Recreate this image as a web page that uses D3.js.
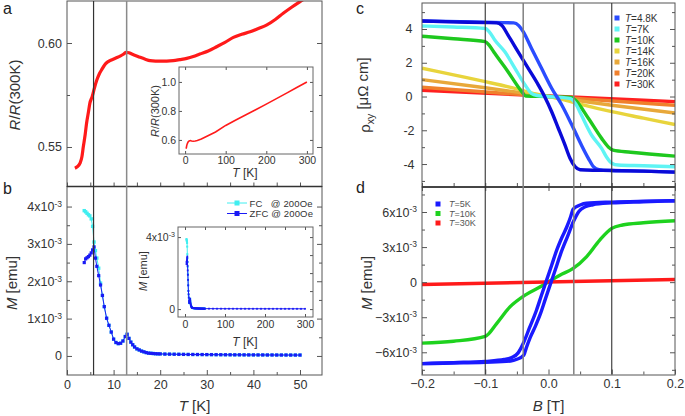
<!DOCTYPE html>
<html><head><meta charset="utf-8">
<script src="https://cdn.jsdelivr.net/npm/d3@7"></script>
<style>body{margin:0;background:#fff}svg{display:block}</style>
</head><body><svg id="chart" width="685" height="416"></svg>
<script>
// ---------------- DATA ----------------
// Panel a: R/R(300K) vs T
const aT = [1.7,2.2,2.8,3.2,3.5,3.9,4.2,4.6,4.9,5.4,5.9,6.4,6.9,7.4,8.0,8.5,9.2,9.9,10.6,11.4,12.1,12.7,13.3,13.9,14.8,15.7,16.8,17.8,19,20,21.4,22.8,24.2,25.7,27.1,28.5,30.3,32.1,33.9,35.7,37.5,39.3,41.1,42.9,44.7,46.4,48.2,50,52];
const aR = [0.5398,0.5405,0.5422,0.5453,0.5501,0.5560,0.5614,0.5668,0.5710,0.5742,0.5785,0.5822,0.5850,0.5870,0.5892,0.5905,0.5915,0.5922,0.5929,0.5937,0.5946,0.5955,0.5953,0.5947,0.5939,0.5931,0.5922,0.5915,0.5913,0.5913,0.5913,0.5915,0.5920,0.5926,0.5935,0.5947,0.5962,0.5982,0.6003,0.6027,0.6042,0.6054,0.6070,0.6087,0.6113,0.6143,0.6172,0.6199,0.6228];
// Inset a
const aInT = [2,3,4,5,6,8,10,13,16,20,25,30,40,50,75,100,125,150,175,200,225,250,275,300];
const aInR = [0.540,0.545,0.561,0.571,0.578,0.589,0.592,0.5955,0.593,0.591,0.593,0.596,0.606,0.620,0.655,0.700,0.737,0.774,0.810,0.847,0.885,0.923,0.962,1.0];
const aInTicksX = [0,100,200,300];
const aInTicksY = [0.6,0.8,1.0];

// Panel b: M vs T (units 1e-3 emu)
const bT = [3.7,4.0,4.3,4.6,4.9,5.2,5.5,5.8,6.1,6.4,6.8,7.2,7.6,8.0,8.5,9.0,9.5,10.0,10.5,11.0,11.5,12.0,12.5,12.9,13.3,13.7,14.1,14.5,15.0,15.5,16.0,16.5,17.0,17.5,18.0,18.5,19.0,19.5,20.0,21,22,23,24,25,26,27,28,29,30,31,32,33,34,35,36,37,38,39,40,41,42,43,44,45,46,47,48,49,50];
const bZFC = [2.50,2.60,2.63,2.66,2.70,2.76,2.84,2.92,2.62,2.40,2.15,1.90,1.62,1.32,1.01,0.82,0.64,0.45,0.36,0.33,0.34,0.40,0.52,0.58,0.47,0.37,0.30,0.24,0.19,0.16,0.13,0.11,0.09,0.075,0.07,0.065,0.06,0.057,0.055,0.05,0.048,0.046,0.044,0.042,0.04,0.039,0.038,0.037,0.036,0.035,0.034,0.033,0.032,0.031,0.03,0.03,0.029,0.028,0.028,0.027,0.027,0.026,0.026,0.025,0.025,0.025,0.024,0.024,0.024];
const bFC = [3.89,3.86,3.82,3.78,3.75,3.67,3.47,3.05,2.82,2.62,2.35,1.95,1.62,1.32,1.01,0.82,0.64,0.45,0.36,0.33,0.34,0.40,0.52,0.58,0.47,0.37,0.30,0.24,0.19,0.16,0.13,0.11,0.09,0.075,0.07,0.065,0.06,0.057,0.055,0.05,0.048,0.046,0.044,0.042,0.04,0.039,0.038,0.037,0.036,0.035,0.034,0.033,0.032,0.031,0.03,0.03,0.029,0.028,0.028,0.027,0.027,0.026,0.026,0.025,0.025,0.025,0.024,0.024,0.024];
// Inset b high-T tail
const bTailT = [60,70,80,90,100,110,120,130,140,150,160,170,180,190,200,210,220,230,240,250,260,270,280,290,300];
const bTailM = [0.023,0.022,0.021,0.021,0.02,0.02,0.02,0.019,0.019,0.019,0.018,0.018,0.018,0.018,0.017,0.017,0.017,0.017,0.016,0.016,0.016,0.016,0.016,0.015,0.015];
const bTicksY = [0,1,2,3,4];
const tTicks = [0,10,20,30,40,50];

// Panel c: rho_xy vs B  [B (T), rho (µΩ cm)]
const c48a = [[-0.2,4.47],[-0.15,4.42],[-0.1,4.38],[-0.082,4.36],[-0.074,4.22],[-0.064,3.64],[-0.048,2.65],[-0.032,1.67],[-0.016,0.68],[-0.006,-0.01],[0.005,-0.9],[0.0155,-1.88],[0.026,-2.87],[0.034,-3.66],[0.042,-4.16],[0.05,-4.34],[0.07,-4.37],[0.1,-4.38],[0.15,-4.42],[0.2,-4.48]];
const c48b = [[-0.2,4.47],[-0.1,4.40],[-0.055,4.36],[-0.047,4.2],[-0.04,3.84],[-0.027,2.86],[-0.011,1.67],[0.005,0.49],[0.021,-0.5],[0.037,-1.69],[0.052,-2.87],[0.063,-3.66],[0.071,-4.15],[0.08,-4.33],[0.1,-4.38],[0.15,-4.42],[0.2,-4.48]];
const c7 = [[-0.2,4.18],[-0.15,4.12],[-0.1,4.03],[-0.093,3.8],[-0.085,3.35],[-0.069,2.65],[-0.053,1.67],[-0.037,0.68],[-0.027,0.19],[-0.018,0.06],[0,0.0],[0.02,-0.05],[0.035,-0.12],[0.044,-0.5],[0.052,-1.1],[0.068,-2.28],[0.084,-3.07],[0.092,-3.6],[0.1,-3.95],[0.11,-4.06],[0.15,-4.1],[0.2,-4.16]];
const c10 = [[-0.2,3.57],[-0.15,3.42],[-0.1,3.25],[-0.093,3.0],[-0.085,2.56],[-0.064,1.47],[-0.042,0.28],[-0.036,0.03],[0,0.0],[0.036,-0.05],[0.042,-0.2],[0.063,-1.29],[0.084,-2.48],[0.095,-3.0],[0.102,-3.18],[0.13,-3.3],[0.2,-3.53]];
const c14 = [[-0.2,1.68],[-0.15,1.28],[-0.1,0.88],[-0.05,0.45],[-0.02,0.15],[0,0.0],[0.02,-0.15],[0.05,-0.45],[0.1,-0.9],[0.15,-1.28],[0.2,-1.66]];
const c16 = [[-0.2,1.0],[-0.1,0.52],[0,0.0],[0.1,-0.52],[0.2,-0.98]];
const c20 = [[-0.2,0.55],[0,0.0],[0.2,-0.52]];
const c30 = [[-0.2,0.37],[0,0.03],[0.2,-0.3]];
const cLegend = ["T=4.8K","T=7K","T=10K","T=14K","T=16K","T=20K","T=30K"];
const cTicksY = [-4,-2,0,2,4];

// Panel d: M vs B  [B (T), M (1e-3 emu)]
const d5a = [[-0.2,-6.97],[-0.15,-6.88],[-0.1,-6.78],[-0.07,-6.62],[-0.058,-6.45],[-0.048,-6.05],[-0.04,-5.25],[-0.03,-3.9],[-0.019,-2.4],[-0.011,-1.1],[-0.003,0.17],[0.005,1.45],[0.013,2.74],[0.021,3.8],[0.029,4.74],[0.035,5.6],[0.039,6.25],[0.05,6.6],[0.06,6.75],[0.1,6.85],[0.15,6.92],[0.2,6.97]];
const d5b = [[-0.2,-6.97],[-0.15,-6.92],[-0.1,-6.85],[-0.06,-6.75],[-0.05,-6.6],[-0.039,-6.25],[-0.035,-5.6],[-0.029,-4.74],[-0.021,-3.8],[-0.013,-2.74],[-0.005,-1.45],[0.003,-0.17],[0.011,1.1],[0.019,2.4],[0.03,3.9],[0.04,5.25],[0.048,6.05],[0.058,6.45],[0.07,6.62],[0.1,6.78],[0.15,6.88],[0.2,6.97]];
const d10 = [[-0.2,-5.22],[-0.15,-5.05],[-0.1,-4.63],[-0.082,-3.54],[-0.061,-2.12],[-0.037,-1.11],[-0.013,-0.4],[0,0.03],[0.018,0.6],[0.039,1.17],[0.06,2.17],[0.081,3.6],[0.1,4.6],[0.117,4.89],[0.15,5.08],[0.2,5.25]];
const d30 = [[-0.2,-0.2],[0.2,0.23]];
const dLegend = ["T=5K","T=10K","T=30K"];
const dTicksY = [-6,-3,0,3,6];
const bFieldTicks = [-0.2,-0.1,0,0.1,0.2];
const tLines = [5.7,12.8];
const bLines = [-0.1,-0.04,0.04,0.1];

// ---------------- DRAWING ----------------
const FONT = '"Liberation Sans", Arial, Helvetica, sans-serif';
const svg = d3.select('#chart').attr('font-family', FONT);

const PA = {x0:67,x1:322,y0:1,y1:186.5};
const PB = {x0:67,x1:322,y0:186.5,y1:375};
const PC = {x0:422,x1:675,y0:3,y1:187};
const PD = {x0:422,x1:675,y0:187,y1:375};
const IA = {x0:179,x1:313,y0:67,y1:154};
const IB = {x0:178,x1:313,y0:227,y1:317};

const xT = d3.scaleLinear().domain([0,54.72]).range([PA.x0,PA.x1]);
const yA = d3.scaleLinear().domain([0.531,0.6202]).range([PA.y1,PA.y0]);
const yB = d3.scaleLinear().domain([-0.51,4.537]).range([PB.y1,PB.y0]);
const xB = d3.scaleLinear().domain([-0.2,0.2]).range([PC.x0,PC.x1]);
const yC = d3.scaleLinear().domain([-5.36,5.54]).range([PC.y1,PC.y0]);
const yD = d3.scaleLinear().domain([-7.9,8.14]).range([374.5,PD.y0]);
const xIA = d3.scaleLinear().domain([-15,315]).range([IA.x0,IA.x1]);
const yIA = d3.scaleLinear().domain([0.503,1.103]).range([IA.y1,IA.y0]);
const xIB = d3.scaleLinear().domain([-17.5,320]).range([IB.x0,IB.x1]);
const yIB = d3.scaleLinear().domain([-0.44,4.56]).range([IB.y1,IB.y0]);

const defs = svg.append('defs');
function clip(id,p){ defs.append('clipPath').attr('id',id).append('rect').attr('x',p.x0).attr('y',p.y0).attr('width',p.x1-p.x0).attr('height',p.y1-p.y0); return `url(#${id})`; }

function axis(kind, scale, pos, values, size, fmt, pad, fs, col){
  const fn = {b:d3.axisBottom,t:d3.axisTop,l:d3.axisLeft,r:d3.axisRight}[kind];
  const a = fn(scale).tickValues(values).tickSize(size).tickSizeOuter(0)
    .tickPadding(pad==null?5:pad).tickFormat(fmt||(()=>''));
  const tr = (kind==='b'||kind==='t')?`translate(0,${pos})`:`translate(${pos},0)`;
  const s = svg.append('g').attr('transform',tr).call(a);
  s.attr('font-family',FONT).attr('font-size',fs||12);
  s.select('.domain').remove();
  s.selectAll('line').attr('stroke',col||'#555').attr('stroke-width',1);
  s.selectAll('text').attr('fill','#333');
  return s;
}
function sci(sel){
  sel.selectAll('.tick text').each(function(d){
    const t = d3.select(this);
    if (Math.abs(d) < 1e-9) { t.text('0'); return; }
    t.text(null);
    t.append('tspan').text(d3.format('d')(d)+'x10');
    t.append('tspan').attr('dy','-0.5em').attr('font-size','0.68em').text('-3');
  });
}
function frame(p, col, w){
  svg.append('rect').attr('x',p.x0).attr('y',p.y0).attr('width',p.x1-p.x0).attr('height',p.y1-p.y0)
    .attr('fill','none').attr('stroke',col||'#555').attr('stroke-width',w||1);
}
const range = (a,b,s)=>d3.range(a,b+s/2,s).map(v=>+v.toFixed(4));

// ===== Panel a =====
const clipA = clip('ca',PA);
svg.append('path').datum(aT.map((t,i)=>[t,aR[i]])).attr('clip-path',clipA)
  .attr('fill','none').attr('stroke','#ff1a1a').attr('stroke-width',3.2).attr('stroke-linejoin','round')
  .attr('d', d3.line().x(d=>xT(d[0])).y(d=>yA(d[1])).curve(d3.curveMonotoneX));
axis('l', yA, PA.x0, [0.55,0.60], -5, d3.format('.2f'), 5, 12.5);
axis('l', yA, PA.x0, [0.575], -3);
axis('r', yA, PA.x1, [0.55,0.60], -5);
axis('r', yA, PA.x1, [0.575], -3);
axis('b', xT, PA.y1, range(0,50,5), -4);

// inset a
svg.append('rect').attr('x',IA.x0).attr('y',IA.y0).attr('width',IA.x1-IA.x0).attr('height',IA.y1-IA.y0).attr('fill','#fff');
svg.append('path').datum(aInT.map((t,i)=>[t,aInR[i]])).attr('clip-path',clip('cia',IA))
  .attr('fill','none').attr('stroke','#ff1a1a').attr('stroke-width',1.6)
  .attr('d', d3.line().x(d=>xIA(d[0])).y(d=>yIA(d[1])));
axis('l', yIA, IA.x0, aInTicksY, -3, d3.format('.1f'), 3, 10.5);
axis('r', yIA, IA.x1, aInTicksY, -3);
axis('b', xIA, IA.y1, aInTicksX, -3, d3.format('d'), 3, 10.5);
axis('t', xIA, IA.y0, aInTicksX, -3);
frame(IA,'#666');
svg.append('text').attr('transform',`translate(159,111) rotate(-90)`).attr('text-anchor','middle')
  .attr('font-size',11).attr('fill','#333')
  .call(t=>{t.append('tspan').attr('font-style','italic').text('R');t.append('tspan').text('/');t.append('tspan').attr('font-style','italic').text('R');t.append('tspan').text('(300K)');});
svg.append('text').attr('x',245).attr('y',177).attr('text-anchor','middle').attr('font-size',12).attr('fill','#333')
  .call(t=>{t.append('tspan').attr('font-style','italic').text('T');t.append('tspan').text(' [K]');});

// ===== Panel b =====
const clipB = clip('cb',PB);
const gB = svg.append('g').attr('clip-path',clipB);
function series(g, xs, ys, xsc, ysc, col, lw, ms){
  const pts = xs.map((t,i)=>[t,ys[i]]);
  g.append('path').datum(pts).attr('fill','none').attr('stroke',col).attr('stroke-width',lw)
    .attr('d', d3.line().x(d=>xsc(d[0])).y(d=>ysc(d[1])));
  g.selectAll(null).data(pts).join('rect')
    .attr('x',d=>xsc(d[0])-ms/2).attr('y',d=>ysc(d[1])-ms/2).attr('width',ms).attr('height',ms).attr('fill',col);
}
series(gB, bT, bFC, xT, yB, '#40eef0', 1, 3.4);
series(gB, bT, bZFC, xT, yB, '#1a1af5', 1, 3.2);
const sb = axis('l', yB, PB.x0, bTicksY, -5, d=>d, 5, 12.5); sci(sb);
axis('l', yB, PB.x0, [0.5,1.5,2.5,3.5], -3);
axis('r', yB, PB.x1, bTicksY, -5);
axis('r', yB, PB.x1, [0.5,1.5,2.5,3.5], -3);
axis('b', xT, PB.y1, tTicks, -5, d3.format('d'), 5, 12.5);
axis('b', xT, PB.y1, [5,15,25,35,45], -3);

// legend b
[['FC   @ 200Oe','#40eef0',203],['ZFC @ 200Oe','#1a1af5',213.5]].forEach(([lab,col,y])=>{
  svg.append('line').attr('x1',227).attr('x2',247).attr('y1',y).attr('y2',y).attr('stroke',col).attr('stroke-width',1);
  svg.append('rect').attr('x',234.5).attr('y',y-2.5).attr('width',5).attr('height',5).attr('fill',col);
  svg.append('text').attr('x',249.5).attr('y',y+3.5).attr('font-size',9.5).attr('letter-spacing',0.15)
    .attr('fill','#333').attr('xml:space','preserve').style('white-space','pre').text(lab);
});

// inset b
svg.append('rect').attr('x',IB.x0).attr('y',IB.y0).attr('width',IB.x1-IB.x0).attr('height',IB.y1-IB.y0).attr('fill','#fff');
const gIB = svg.append('g').attr('clip-path',clip('cib',IB));
series(gIB, bT, bFC, xIB, yIB, '#40eef0', 1, 2);
series(gIB, bT.concat(bTailT), bZFC.concat(bTailM), xIB, yIB, '#1a1af5', 1, 1.8);
const sib = axis('l', yIB, IB.x0, [0,4], -3, d=>d, 3, 10.5); sci(sib);
axis('r', yIB, IB.x1, [0,1,2,3,4], -3);
axis('b', xIB, IB.y1, aInTicksX, -3, d3.format('d'), 4, 10.5);
axis('t', xIB, IB.y0, [0,50,100,150,200,250,300], -3);
frame(IB,'#666');
svg.append('text').attr('transform',`translate(147,271) rotate(-90)`).attr('text-anchor','middle')
  .attr('font-size',11).attr('fill','#333')
  .call(t=>{t.append('tspan').attr('font-style','italic').text('M');t.append('tspan').text(' [emu]');});
svg.append('text').attr('x',245).attr('y',346).attr('text-anchor','middle').attr('font-size',12).attr('fill','#333')
  .call(t=>{t.append('tspan').attr('font-style','italic').text('T');t.append('tspan').text(' [K]');});

// frames a/b
frame(PA,'#555'); frame(PB,'#555');
svg.append('line').attr('x1',PA.x0).attr('x2',PA.x1).attr('y1',PA.y1).attr('y2',PA.y1).attr('stroke','#333').attr('stroke-width',1.6);
// vertical transition lines
tLines.forEach((t,i)=>svg.append('line').attr('x1',xT(t)).attr('x2',xT(t)).attr('y1',PA.y0).attr('y2',PB.y1)
  .attr('stroke', i===0?'#333':'#8a8a8a').attr('stroke-width', i===0?1.2:1.5));

// ===== Panel c =====
const clipC = clip('cc',PC);
const gC = svg.append('g').attr('clip-path',clipC);
const cCols = ['#1f3fff','#5ff4f4','#1ec81e','#e8d43c','#e8a83a','#f0802c','#ff2020'];
const lineB = (ys)=>d3.line().x(d=>xB(d[0])).y(d=>ys(d[1])).curve(d3.curveMonotoneX);
[[c30,cCols[6]],[c20,cCols[5]],[c16,cCols[4]],[c14,cCols[3]],[c10,cCols[2]],[c7,cCols[1]],[c48b,'#2a4cff'],[c48a,'#0a0ad8']]
  .forEach(([d,col])=>gC.append('path').datum(d).attr('fill','none').attr('stroke',col)
    .attr('stroke-width',3.4).attr('stroke-linejoin','round').attr('d',lineB(yC)));
const scy = axis('l', yC, PC.x0, cTicksY, -5, d=>d, 5, 12.5);
scy.selectAll('.tick text').attr('text-anchor','middle').attr('x',-13);
axis('l', yC, PC.x0, [-5,-3,-1,1,3,5], -3);
axis('r', yC, PC.x1, cTicksY, -5);
axis('r', yC, PC.x1, [-5,-3,-1,1,3,5], -3);
axis('b', xB, PC.y1, range(-0.2,0.2,0.05), -4);
// legend c
cLegend.forEach((lab,i)=>{
  const y = 18 + i*11;
  svg.append('rect').attr('x',614.5).attr('y',y-2.5).attr('width',5).attr('height',5).attr('fill',i===0?'#2a4cff':cCols[i]);
  svg.append('text').attr('x',625).attr('y',y+3.5).attr('font-size',10).attr('fill','#333')
    .call(t=>{t.append('tspan').attr('font-style','italic').text('T');t.append('tspan').text(lab.slice(1));});
});

// ===== Panel d =====
const clipD = clip('cd',PD);
const gD = svg.append('g').attr('clip-path',clipD);
[[d10,'#1ed21e'],[d30,'#ff1a1a'],[d5a,'#1a1aff'],[d5b,'#1a1aff']]
  .forEach(([d,col])=>gD.append('path').datum(d).attr('fill','none').attr('stroke',col)
    .attr('stroke-width',3.4).attr('stroke-linejoin','round').attr('d',lineB(yD)));
const sdy = axis('l', yD, PD.x0, dTicksY, -5, d=>d, 5, 12.5); sci(sdy);
axis('l', yD, PD.x0, [-7.5,-4.5,-1.5,1.5,4.5,7.5], -3);
axis('r', yD, PD.x1, dTicksY, -5);
axis('r', yD, PD.x1, [-7.5,-4.5,-1.5,1.5,4.5,7.5], -3);
axis('b', xB, 374.5, bFieldTicks, -5, d3.format('.1f'), 5, 12.5);
axis('b', xB, 374.5, [-0.15,-0.05,0.05,0.15], -3);
axis('t', xB, PD.y0, bFieldTicks, -4);
// legend d
dLegend.forEach((lab,i)=>{
  const y = 204 + i*9.5;
  const col = ['#1a1aff','#1ed21e','#ff1a1a'][i];
  svg.append('rect').attr('x',435.5).attr('y',y-2.5).attr('width',5).attr('height',5).attr('fill',col);
  svg.append('text').attr('x',449).attr('y',y+3).attr('font-size',9).attr('fill','#555')
    .call(t=>{t.append('tspan').attr('font-style','italic').text('T');t.append('tspan').text(lab.slice(1));});
});

frame(PC,'#555'); frame(PD,'#555');
svg.append('line').attr('x1',PC.x0).attr('x2',PC.x1).attr('y1',PC.y1).attr('y2',PC.y1).attr('stroke','#333').attr('stroke-width',1.6);
bLines.forEach(b=>svg.append('line').attr('x1',xB(b)).attr('x2',xB(b)).attr('y1',PC.y0).attr('y2',374.5)
  .attr('stroke', Math.abs(b)>0.05?'#333':'#808080').attr('stroke-width', Math.abs(b)>0.05?1.1:1.5));

// ===== Titles =====
function ytitle(x,y,parts,fs){
  const t = svg.append('text').attr('transform',`translate(${x},${y}) rotate(-90)`).attr('text-anchor','middle')
    .attr('font-size',fs||15).attr('fill','#333');
  parts.forEach(([s,it,sub])=>{ const ts=t.append('tspan').text(s); if(it) ts.attr('font-style','italic');
    if(sub){ ts.attr('font-size','0.7em').attr('dy','0.35em'); } });
  return t;
}
ytitle(20,95,[['R',1],['/',0],['R',1],['(300K)',0]]);
ytitle(17,283,[['M',1],[' [emu]',0]]);
const rt = ytitle(370,95,[['ρ',0],['xy',0,1]]);
rt.append('tspan').attr('dy','-0.35em').text(' [μΩ cm]');
ytitle(372,283,[['M',1],[' [emu]',0]]);
svg.append('text').attr('x',194.5).attr('y',411).attr('text-anchor','middle').attr('font-size',15).attr('fill','#333')
  .call(t=>{t.append('tspan').attr('font-style','italic').text('T');t.append('tspan').text(' [K]');});
svg.append('text').attr('x',548.5).attr('y',411).attr('text-anchor','middle').attr('font-size',15).attr('fill','#333')
  .call(t=>{t.append('tspan').attr('font-style','italic').text('B');t.append('tspan').text(' [T]');});

// panel letters
[['a',3,14],['b',3,194],['c',356,14],['d',356,193]].forEach(([s,x,y])=>
  svg.append('text').attr('x',x).attr('y',y).attr('font-size',16).attr('fill','#222').text(s));
</script></body></html>
